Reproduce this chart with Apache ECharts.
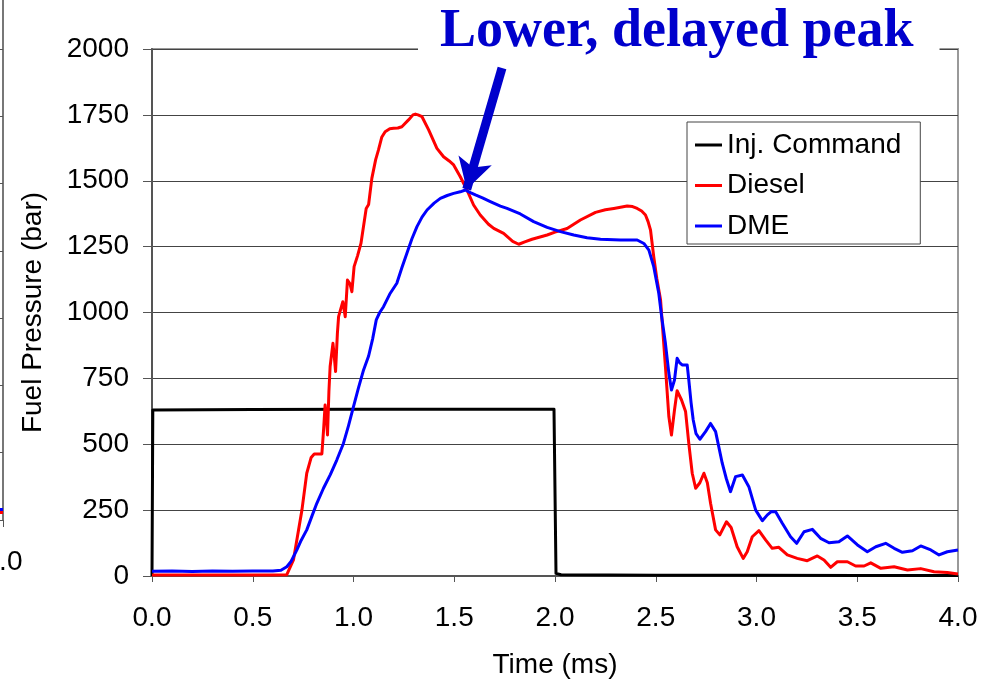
<!DOCTYPE html>
<html>
<head>
<meta charset="utf-8">
<title>Fuel Pressure vs Time</title>
<script src="https://cdn.jsdelivr.net/npm/echarts@6/dist/echarts.min.js"></script>
<style>
  html, body { margin: 0; padding: 0; background: #fff; }
  #chart { width: 998px; height: 682px; }
</style>
</head>
<body>
<div id="chart"></div>
<script>
// Injector command signal (bar-equivalent level)
const injTime = [0, 0.004, 0.5, 1.0, 1.5, 1.995, 2.005, 2.03, 2.5, 3.0, 3.5, 4.0];
const injCommand = [0, 630, 632, 633, 633, 633, 10, 5, 3, 3, 2, 2];

// Diesel line pressure (bar)
const dieselTime = [
  0.00, 0.30, 0.60, 0.669, 0.702, 0.744, 0.768, 0.790, 0.805, 0.843,
  0.852, 0.859, 0.866, 0.871, 0.878, 0.884, 0.898, 0.905, 0.911, 0.920,
  0.926, 0.934, 0.947, 0.959, 0.970, 0.982, 0.992, 1.003, 1.020, 1.037,
  1.063, 1.075, 1.091, 1.110, 1.124, 1.140, 1.157, 1.180, 1.199, 1.220,
  1.240, 1.273, 1.295, 1.307, 1.320, 1.340, 1.373, 1.414, 1.447, 1.475,
  1.497, 1.530, 1.563, 1.596, 1.629, 1.670, 1.696, 1.745, 1.790, 1.820,
  1.850, 1.886, 1.961, 2.000, 2.060, 2.126, 2.201, 2.250, 2.292, 2.358,
  2.385, 2.408, 2.430, 2.449, 2.462, 2.474, 2.490, 2.505, 2.524, 2.548,
  2.565, 2.578, 2.593, 2.606, 2.628, 2.648, 2.664, 2.681, 2.698, 2.719,
  2.739, 2.756, 2.772, 2.797, 2.818, 2.851, 2.874, 2.904, 2.934, 2.954,
  2.979, 3.012, 3.045, 3.078, 3.111, 3.153, 3.202, 3.252, 3.302, 3.335,
  3.368, 3.401, 3.451, 3.492, 3.534, 3.567, 3.617, 3.683, 3.749, 3.815,
  3.881, 3.947, 4.000
];
const dieselPressure = [
  4, 4, 4, 5, 61, 250, 390, 450, 463, 463,
  560, 649, 600, 535, 700, 795, 883, 830, 776, 920,
  984, 990, 1041, 984, 1123, 1110, 1079, 1174, 1215, 1262,
  1395, 1410, 1509, 1580, 1617, 1665, 1686, 1697, 1699, 1700,
  1705, 1731, 1750, 1753, 1750, 1743, 1693, 1623, 1591, 1575,
  1560, 1515, 1465, 1408, 1370, 1335, 1319, 1300, 1270, 1259,
  1268, 1278, 1294, 1305, 1319, 1351, 1380, 1390, 1395, 1404,
  1402, 1395, 1385, 1370, 1345, 1313, 1212, 1130, 1047, 795,
  605, 535, 630, 703, 668, 624, 503, 390, 333, 354,
  390, 354, 276, 175, 156, 206, 184, 111, 67, 92,
  149, 172, 137, 105, 109, 80, 67, 58, 76, 61,
  33, 54, 54, 38, 38, 50, 29, 35, 23, 28,
  16, 13, 8
];

// DME line pressure (bar)
const dmeTime = [
  0.00, 0.10, 0.20, 0.30, 0.40, 0.50, 0.60, 0.640, 0.669, 0.690,
  0.719, 0.740, 0.768, 0.795, 0.818, 0.851, 0.885, 0.917, 0.950, 0.975,
  1.000, 1.025, 1.050, 1.075, 1.095, 1.113, 1.130, 1.149, 1.180, 1.215,
  1.240, 1.265, 1.290, 1.315, 1.340, 1.365, 1.400, 1.431, 1.465, 1.497,
  1.530, 1.555, 1.580, 1.605, 1.640, 1.679, 1.729, 1.762, 1.828, 1.894,
  1.961, 2.027, 2.093, 2.159, 2.226, 2.325, 2.408, 2.441, 2.466, 2.490,
  2.515, 2.530, 2.548, 2.565, 2.578, 2.593, 2.606, 2.618, 2.631, 2.656,
  2.664, 2.675, 2.686, 2.700, 2.719, 2.747, 2.772, 2.797, 2.830, 2.850,
  2.871, 2.896, 2.930, 2.962, 2.996, 3.029, 3.054, 3.075, 3.095, 3.128,
  3.169, 3.199, 3.236, 3.277, 3.318, 3.360, 3.409, 3.451, 3.501, 3.550,
  3.592, 3.641, 3.683, 3.724, 3.774, 3.815, 3.865, 3.906, 3.947, 4.000
];
const dmePressure = [
  18, 19, 17, 19, 18, 19, 19, 22, 35, 55,
  99, 135, 175, 230, 276, 333, 385, 440, 503, 570,
  643, 715, 782, 835, 900, 972, 1000, 1022, 1070, 1111,
  1170, 1225, 1280, 1326, 1362, 1389, 1415, 1433, 1444, 1452,
  1458, 1465, 1455, 1446, 1435, 1421, 1404, 1395, 1374, 1345,
  1323, 1307, 1294, 1284, 1278, 1275, 1275, 1262, 1237, 1174,
  1073, 980, 883, 770, 706, 744, 826, 810, 801, 801,
  744, 660, 592, 540, 519, 548, 579, 548, 428, 370,
  320, 377, 383, 339, 250, 210, 232, 245, 244, 200,
  149, 124, 168, 177, 143, 126, 130, 152, 118, 92,
  111, 124, 105, 90, 96, 114, 99, 80, 92, 99
];

// Tail end of the neighbouring panel on the left
const sideTime = [3.8, 4.0];
const sideDiesel = [28, 28];
const sideDme = [39, 39];

// Annotation arrow: from the caption down to the DME peak
const arrowFrom = [1.737, 1928];
const arrowTo = [1.562, 1468];

const yTicks = { min: 0, max: 2000, interval: 250 };
const xTicks = { min: 0, max: 4, interval: 0.5 };

const zip = (xs, ys) => xs.map((x, i) => [x, ys[i]]);

const FONT = 'Liberation Sans, Arial, sans-serif';
const chart = echarts.init(document.getElementById('chart'), null, { renderer: 'canvas' });

chart.setOption({
  animation: false,
  backgroundColor: '#ffffff',
  textStyle: { fontFamily: FONT },
  title: {
    text: 'Lower, delayed peak',
    left: 418,
    top: 0,
    padding: [5, 26, 0, 22],
    backgroundColor: '#ffffff',
    textStyle: {
      fontFamily: 'Liberation Serif, Times New Roman, serif',
      fontWeight: 'bold',
      fontSize: 54,
      color: '#0000CC'
    },
    z: 20
  },
  legend: {
    data: ['Inj. Command', 'Diesel', 'DME'],
    orient: 'vertical',
    left: 687,
    top: 122,
    padding: [8, 19, 3, 8],
    itemGap: 10.5,
    itemWidth: 27,
    itemHeight: 3,
    icon: 'rect',
    borderColor: '#444',
    borderWidth: 1,
    backgroundColor: '#ffffff',
    textStyle: { fontSize: 28, color: '#000', lineHeight: 30, fontFamily: FONT },
    z: 10
  },
  grid: [
    {
      left: 152, right: 40, top: 49, bottom: 106,
      outerBoundsMode: 'none',
      show: true, borderColor: '#999', borderWidth: 2
    },
    {
      left: -400, width: 403, top: -18.4, height: 538.4,
      outerBoundsMode: 'none',
      show: false
    }
  ],
  xAxis: [
    {
      type: 'value', gridIndex: 0,
      min: xTicks.min, max: xTicks.max, interval: xTicks.interval,
      name: 'Time (ms)', nameLocation: 'middle', nameGap: 75,
      nameTextStyle: { fontSize: 28, color: '#000', fontFamily: FONT },
      axisLine: { show: true, lineStyle: { color: '#555', width: 2 } },
      axisTick: { show: true, inside: false, length: 6, lineStyle: { color: '#555', width: 1 } },
      axisLabel: { fontSize: 28, color: '#000', margin: 28, formatter: v => v.toFixed(1) },
      splitLine: { show: false }
    },
    {
      type: 'value', gridIndex: 1,
      min: xTicks.min, max: xTicks.max, interval: xTicks.interval,
      axisLine: { show: true, onZero: false, lineStyle: { color: '#777', width: 1 } },
      axisTick: { show: true, length: 7, lineStyle: { color: '#555', width: 1 } },
      axisLabel: { fontSize: 28, color: '#000', margin: 28, formatter: v => v.toFixed(1) },
      splitLine: { show: false }
    }
  ],
  yAxis: [
    {
      type: 'value', gridIndex: 0,
      min: yTicks.min, max: yTicks.max, interval: yTicks.interval,
      name: 'Fuel Pressure (bar)', nameLocation: 'middle', nameGap: 105,
      nameTextStyle: { fontSize: 28, color: '#000', fontFamily: FONT },
      axisLine: { show: true, lineStyle: { color: '#555', width: 2 } },
      axisTick: { show: true, inside: false, length: 9, lineStyle: { color: '#555', width: 1 } },
      axisLabel: { fontSize: 28, color: '#000', margin: 23, formatter: v => String(v) },
      splitLine: { show: true, lineStyle: { color: '#444', width: 1 } }
    },
    {
      type: 'value', gridIndex: 1, position: 'right',
      min: yTicks.min, max: yTicks.max, interval: yTicks.interval,
      axisLine: { show: true, onZero: false, lineStyle: { color: '#777', width: 2 } },
      axisTick: { show: true, inside: true, length: 3, lineStyle: { color: '#555', width: 1 } },
      axisLabel: { show: false },
      splitLine: { show: false }
    }
  ],
  series: [
    {
      name: 'Inj. Command', type: 'line', xAxisIndex: 0, yAxisIndex: 0,
      data: zip(injTime, injCommand),
      showSymbol: false, color: '#000000',
      lineStyle: { width: 3, color: '#000000', join: 'round' },
      z: 2
    },
    {
      name: 'Diesel', type: 'line', xAxisIndex: 0, yAxisIndex: 0,
      data: zip(dieselTime, dieselPressure),
      showSymbol: false, color: '#FF0000',
      lineStyle: { width: 3, color: '#FF0000', join: 'round' },
      z: 3
    },
    {
      name: 'DME', type: 'line', xAxisIndex: 0, yAxisIndex: 0,
      data: zip(dmeTime, dmePressure),
      showSymbol: false, color: '#0000FF',
      lineStyle: { width: 3, color: '#0000FF', join: 'round' },
      z: 4,
      markLine: {
        silent: true,
        symbol: ['none', 'arrow'],
        symbolSize: [26, 30],
        label: { show: false },
        lineStyle: { type: 'solid', color: '#0000CC', width: 9 },
        emphasis: { disabled: true },
        data: [[{ coord: arrowFrom }, { coord: arrowTo }]],
        z: 12
      }
    },
    {
      name: 'side-diesel', type: 'line', xAxisIndex: 1, yAxisIndex: 1,
      data: zip(sideTime, sideDiesel),
      showSymbol: false, lineStyle: { width: 3, color: '#FF0000' }
    },
    {
      name: 'side-dme', type: 'line', xAxisIndex: 1, yAxisIndex: 1,
      data: zip(sideTime, sideDme),
      showSymbol: false, lineStyle: { width: 3, color: '#0000FF' }
    }
  ]
});
</script>
</body>
</html>
